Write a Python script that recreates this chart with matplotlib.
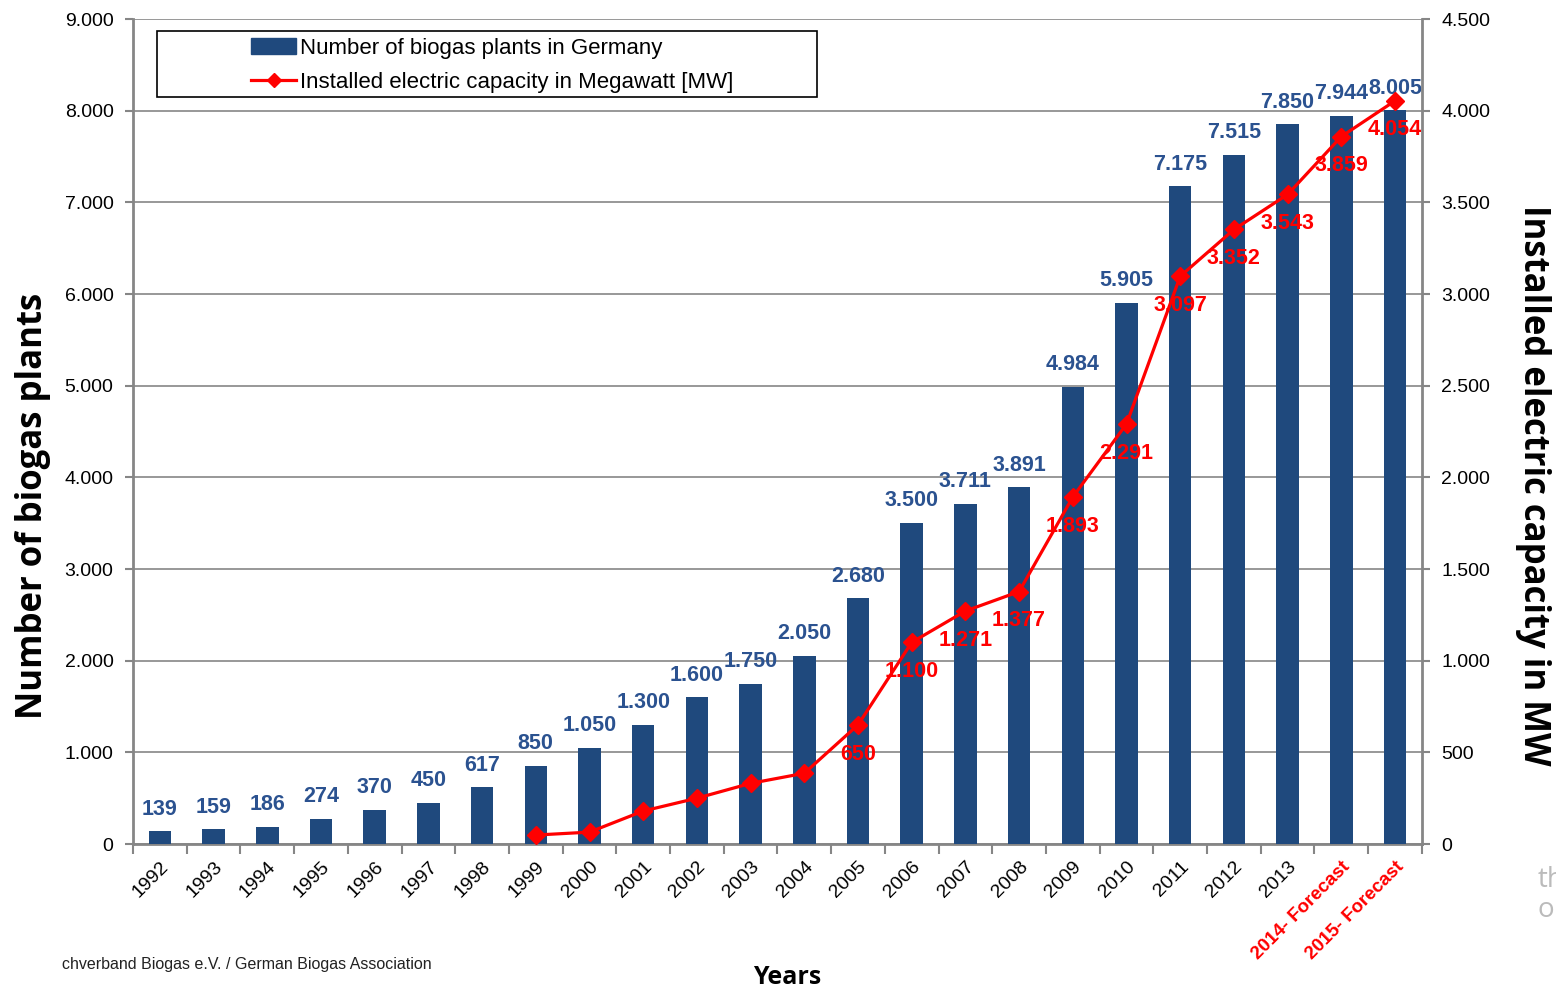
import matplotlib.pyplot as plt
from matplotlib.patches import Rectangle
from matplotlib.ticker import FuncFormatter
import numpy as np

# data
years = ['1992', '1993', '1994', '1995', '1996', '1997', '1998', '1999', '2000',
         '2001', '2002', '2003', '2004', '2005', '2006', '2007', '2008', '2009',
         '2010', '2011', '2012', '2013', '2014- Forecast', '2015- Forecast']
plants = [139, 159, 186, 274, 370, 450, 617, 850, 1050, 1300, 1600, 1750, 2050,
          2680, 3500, 3711, 3891, 4984, 5905, 7175, 7515, 7850, 7944, 8005]
# installed capacity (MW) from 1999 on
cap_years = years[7:]
capacity = [49, 65, 180, 250, 331, 386, 650, 1100, 1271, 1377, 1893, 2291,
            3097, 3352, 3543, 3859, 4054]
cap_labelled = [False] * 6 + [True] * 11

blue = '#1F497D'
red = '#FF0000'
grey = '#868686'

def dot_thousands(v, pos=None):
    return f'{int(round(v)):,}'.replace(',', '.')

fig = plt.figure(figsize=(15.56, 9.91), dpi=100)
ax = fig.add_axes([0.0855, 0.1483, 0.8283, 0.8325])
ax2 = ax.twinx()

x = np.arange(len(years))
ax.bar(x, plants, width=0.42, color=blue, zorder=3)
for xi, v in zip(x, plants):
    ax.annotate(dot_thousands(v), (xi, v), xytext=(0, 16), textcoords='offset points',
                ha='center', va='center', fontsize=15.5, fontweight='bold',
                color='#2B5290', family='Liberation Sans', zorder=5)

cx = x[7:]
ax2.plot(cx, capacity, color=red, lw=2.3, marker='D', markersize=9, zorder=4)
for xi, v, show in zip(cx, capacity, cap_labelled):
    if show:
        ax2.annotate(dot_thousands(v), (xi, v), xytext=(0, -21), textcoords='offset points',
                     ha='center', va='center', fontsize=15.5, fontweight='bold',
                     color=red, family='Liberation Sans', zorder=5)

ax.set_xlim(-0.5, len(years) - 0.5)
ax.set_ylim(0, 9000)
ax2.set_ylim(0, 4500)
ax.set_yticks(np.arange(0, 9001, 1000))
ax2.set_yticks(np.arange(0, 4501, 500))
ax.yaxis.set_major_formatter(FuncFormatter(dot_thousands))
ax2.yaxis.set_major_formatter(FuncFormatter(dot_thousands))
ax.grid(axis='y', color=grey, lw=1.2, zorder=0)
ax.set_axisbelow(True)

for a in (ax, ax2):
    for s in a.spines.values():
        s.set_color(grey)
        s.set_linewidth(2)
    a.spines['top'].set_visible(False)
ax.spines['right'].set_visible(False)
ax2.spines['left'].set_visible(False)
ax2.spines['bottom'].set_visible(False)

ax.tick_params(axis='y', labelsize=14, length=6, width=1.5, color=grey, pad=8)
ax2.tick_params(axis='y', labelsize=14, length=6, width=1.5, color=grey, pad=8)
for lab in ax.get_yticklabels() + ax2.get_yticklabels():
    lab.set_family('Liberation Sans')

# category boundary ticks, labels at category centres
ax.set_xticks(np.arange(-0.5, len(years)), minor=False)
ax.set_xticklabels([])
ax.set_xticks(x, minor=True)
ax.set_xticklabels(years, minor=True, rotation=45, ha='right', va='top',
                   rotation_mode='anchor', fontsize=14, family='Liberation Sans')
ax.tick_params(axis='x', which='major', length=7, width=1.5, color=grey)
ax.tick_params(axis='x', which='minor', length=0, pad=10)
for lab in ax.get_xticklabels(minor=True):
    if 'Forecast' in lab.get_text():
        lab.set_color(red)
        lab.set_fontweight('bold')
        lab.set_fontsize(13.5)

ax.set_ylabel('Number of biogas plants', fontsize=25, fontweight='bold',
              family='Open Sans', va='center')
ax.yaxis.set_label_coords(-0.078, 0.41)
ax2.set_ylabel('Installed electric capacity in MW', fontsize=25, fontweight='bold',
               family='Open Sans', rotation=-90, va='center')
ax2.yaxis.set_label_coords(1.086, 0.435)
fig.text(0.506, 0.014, 'Years', fontsize=18, fontweight='bold', family='Open Sans',
         ha='center', va='center')
fig.text(0.04, 0.027, 'chverband Biogas e.V. / German Biogas Association',
         fontsize=11.5, family='Liberation Sans', color='#222222', va='center')
fig.text(0.988, 0.112, 'th', fontsize=20, color='#BBBBBB', family='Open Sans', va='center')
fig.text(0.988, 0.082, 'o', fontsize=20, color='#BBBBBB', family='Open Sans', va='center')

# legend with a plain black frame
ax2.add_patch(Rectangle((0.0186, 0.905), 0.512, 0.0805, transform=ax2.transAxes,
                        facecolor='white', edgecolor='black', lw=1.2, zorder=6,
                        clip_on=False))
h1 = Rectangle((0, 0), 1, 1, color=blue)
h2 = plt.Line2D([], [], color=red, lw=2.3, marker='D', markersize=7)
leg = ax2.legend([h1, h2], ['Number of biogas plants in Germany',
                            'Installed electric capacity in Megawatt [MW]'],
                 loc='upper left', bbox_to_anchor=(0.085, 0.988), frameon=False,
                 prop={'family': 'Liberation Sans', 'size': 16}, handlelength=2.0,
                 handletextpad=0.2, labelspacing=0.6, borderaxespad=0)
leg.set_zorder(7)

fig.savefig('out.png', dpi=100)
